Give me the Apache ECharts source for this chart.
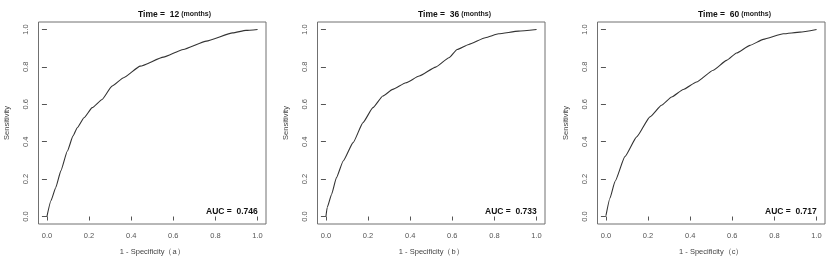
<!DOCTYPE html>
<html>
<head>
<meta charset="utf-8">
<script src="https://cdn.jsdelivr.net/npm/echarts@6/dist/echarts.min.js"></script>
<style>
  html, body { margin: 0; padding: 0; background: #fff; }
  #chart { width: 829px; height: 261px; }
</style>
</head>
<body>
<div id="chart"></div>
<script>
// ROC curves (1 - specificity, sensitivity)
var fpr12 = [0, 0.019, 0.042, 0.066, 0.097, 0.124, 0.144, 0.176, 0.215, 0.262, 0.309, 0.364, 0.443, 0.553, 0.647, 0.757, 0.882, 0.945, 1]
var tpr12 = [0, 0.084, 0.155, 0.244, 0.35, 0.431, 0.475, 0.528, 0.582, 0.626, 0.697, 0.742, 0.804, 0.852, 0.893, 0.938, 0.982, 0.995, 1]
var fpr36 = [0, 0.006, 0.027, 0.05, 0.082, 0.129, 0.176, 0.223, 0.27, 0.317, 0.38, 0.443, 0.521, 0.584, 0.623, 0.678, 0.757, 0.82, 0.914, 1]
var tpr36 = [0, 0.048, 0.119, 0.208, 0.297, 0.395, 0.502, 0.582, 0.644, 0.68, 0.715, 0.751, 0.799, 0.849, 0.893, 0.92, 0.956, 0.977, 0.991, 1]
var fpr60 = [0, 0.019, 0.043, 0.09, 0.146, 0.209, 0.264, 0.312, 0.367, 0.43, 0.509, 0.573, 0.62, 0.684, 0.747, 0.842, 0.921, 1]
var tpr60 = [0.004, 0.098, 0.187, 0.32, 0.426, 0.533, 0.595, 0.639, 0.679, 0.719, 0.782, 0.835, 0.874, 0.915, 0.947, 0.977, 0.986, 1]

var months = ['12', '36', '60']
var aucs = ['0.746', '0.733', '0.717']
var letters = ['a', 'b', 'c']
var ticks = [0, 0.2, 0.4, 0.6, 0.8, 1]
var tickLabels = ['0.0', '0.2', '0.4', '0.6', '0.8', '1.0']

var curves = [[fpr12, tpr12], [fpr36, tpr36], [fpr60, tpr60]]
var lefts = [38.5, 317.5, 597.5]
var titleLefts = [133, 413, 693]
var gridW = 227.5
var gridTop = 22
var gridH = 202

function pairs(xs, ys) {
  var out = []
  for (var i = 0; i < xs.length; i++) out.push([xs[i], ys[i]])
  return out
}

function fmt(v) {
  for (var i = 0; i < ticks.length; i++) {
    if (Math.abs(ticks[i] - v) < 1e-9) return tickLabels[i]
  }
  return ''
}

var font = 'Liberation Sans, Arial, sans-serif'
var grids = [], xAxes = [], yAxes = [], series = [], titles = [], graphics = []

for (var k = 0; k < 3; k++) {
  grids.push({
    left: lefts[k], top: gridTop, width: gridW, height: gridH,
    show: true, borderColor: '#707070', borderWidth: 1, backgroundColor: 'transparent'
  })
  xAxes.push({
    gridIndex: k, type: 'value', min: -0.04, max: 1.04,
    name: '1 - Specificity（' + letters[k] + '）',
    nameLocation: 'middle', nameGap: 24,
    nameTextStyle: { fontFamily: font, fontSize: 7.5, color: '#444' },
    axisLine: { show: false },
    axisTick: { show: true, customValues: ticks, length: 4, lineStyle: { color: '#555' } },
    axisLabel: { customValues: ticks, formatter: fmt, margin: 8, fontFamily: font, fontSize: 7.5, color: '#555' },
    splitLine: { show: false }
  })
  yAxes.push({
    gridIndex: k, type: 'value', min: -0.04, max: 1.04,
    name: 'Sensitivity',
    nameLocation: 'middle', nameGap: 28,
    nameTextStyle: { fontFamily: font, fontSize: 7.5, color: '#444' },
    axisLine: { show: false },
    axisTick: { show: true, customValues: ticks, length: 5, lineStyle: { color: '#555' } },
    axisLabel: { customValues: ticks, formatter: fmt, rotate: 90, margin: 9, fontFamily: font, fontSize: 7.5, color: '#555' },
    splitLine: { show: false }
  })
  series.push({
    type: 'line', xAxisIndex: k, yAxisIndex: k,
    data: pairs(curves[k][0], curves[k][1]),
    showSymbol: false, silent: true,
    smooth: 0.15, smoothMonotone: 'x',
    lineStyle: { color: '#333', width: 1.1 }
  })
  titles.push({
    left: titleLefts[k], top: 5,
    text: '{b|Time =  ' + months[k] + '}{s| (months)}',
    textStyle: {
      rich: {
        b: { fontFamily: font, fontSize: 8.5, fontWeight: 'bold', color: '#111' },
        s: { fontFamily: font, fontSize: 7, fontWeight: 'bold', color: '#222' }
      }
    }
  })
  graphics.push({
    type: 'text',
    x: lefts[k] + gridW - 8.2, y: 212,
    style: {
      text: 'AUC =  ' + aucs[k], align: 'right', verticalAlign: 'middle',
      font: 'bold 8.5px ' + font, fill: '#111'
    }
  })
}

var chart = echarts.init(document.getElementById('chart'), null, { renderer: 'canvas' })
chart.setOption({
  animation: false,
  backgroundColor: '#fff',
  title: titles,
  grid: grids,
  xAxis: xAxes,
  yAxis: yAxes,
  series: series,
  graphic: graphics
})
</script>
</body>
</html>
